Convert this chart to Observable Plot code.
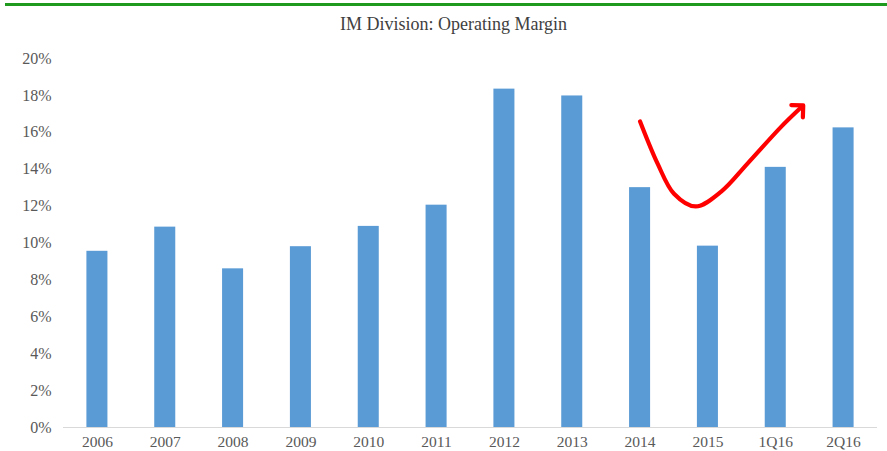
<!DOCTYPE html>
<html>
<head>
<meta charset="utf-8">
<script src="https://cdn.jsdelivr.net/npm/d3@7"></script>
<script src="https://cdn.jsdelivr.net/npm/@observablehq/plot@0.6"></script>
<style>
  html, body { margin: 0; padding: 0; background: #ffffff; }
  #wrap { position: relative; width: 887px; height: 451px; overflow: hidden; }
  #rule { position: absolute; left: 5px; right: 0; top: 3px; height: 3px; background: #1f9a1f; }
  #title { position: absolute; left: 0; width: 907px; top: 14px; text-align: center;
           font-family: "Liberation Serif", "DejaVu Serif", serif; font-size: 18px; color: #404040; }
  #chart { position: absolute; left: 0; top: 40px; }
</style>
</head>
<body>
<div id="wrap">
  <div id="rule"></div>
  <div id="title">IM Division: Operating Margin</div>
  <div id="chart"></div>
</div>
<script>
const categories = ["2006","2007","2008","2009","2010","2011","2012","2013","2014","2015","1Q16","2Q16"];
const margins = [9.55, 10.86, 8.6, 9.8, 10.9, 12.05, 18.34, 17.97, 13.0, 9.83, 14.1, 16.24];
const yTicks = [0, 2, 4, 6, 8, 10, 12, 14, 16, 18, 20];
// annotation arrow path in data units (x = category index, y = percent)
const arrowX = [8.0, 8.26, 8.5, 8.82, 9.2, 9.58, 10.075, 10.36];
const arrowY = [16.59, 14.29, 12.67, 11.98, 12.8, 14.29, 16.28, 17.30];

const bars = categories.map((c, i) => ({i, c, v: margins[i]}));
const arrow = arrowX.map((x, k) => ({x, y: arrowY[k]}));
const half = 0.155;

const plot = Plot.plot({
  width: 887,
  height: 411,
  marginTop: 18,
  marginBottom: 24,
  marginLeft: 63,
  marginRight: 10,
  style: {fontFamily: "'Liberation Serif', 'DejaVu Serif', serif", fontSize: "16px", color: "#595959", background: "transparent"},
  x: {type: "linear", domain: [-0.5, 11.5], axis: null},
  y: {domain: [0, 20], axis: null},
  marks: [
    Plot.axisY({ticks: yTicks, tickSize: 0, tickPadding: 12, tickFormat: d => d + "%", fontSize: 16, label: null}),
    Plot.axisX({ticks: categories.map((c, i) => i), tickSize: 0, tickPadding: 8, tickFormat: i => categories[i], fontSize: 15.5, label: null}),
    Plot.rectY(bars, {x1: d => d.i - half, x2: d => d.i + half, y: "v", fill: "#5b9bd5"}),
    Plot.ruleY([0], {stroke: "#d9d9d9", strokeWidth: 1.2}),
    Plot.line(arrow, {x: "x", y: "y", stroke: "#ff0000", strokeWidth: 4.2, curve: "catmull-rom", markerEnd: "arrow", strokeLinecap: "round"})
  ]
});
document.getElementById("chart").appendChild(plot);
</script>
</body>
</html>
